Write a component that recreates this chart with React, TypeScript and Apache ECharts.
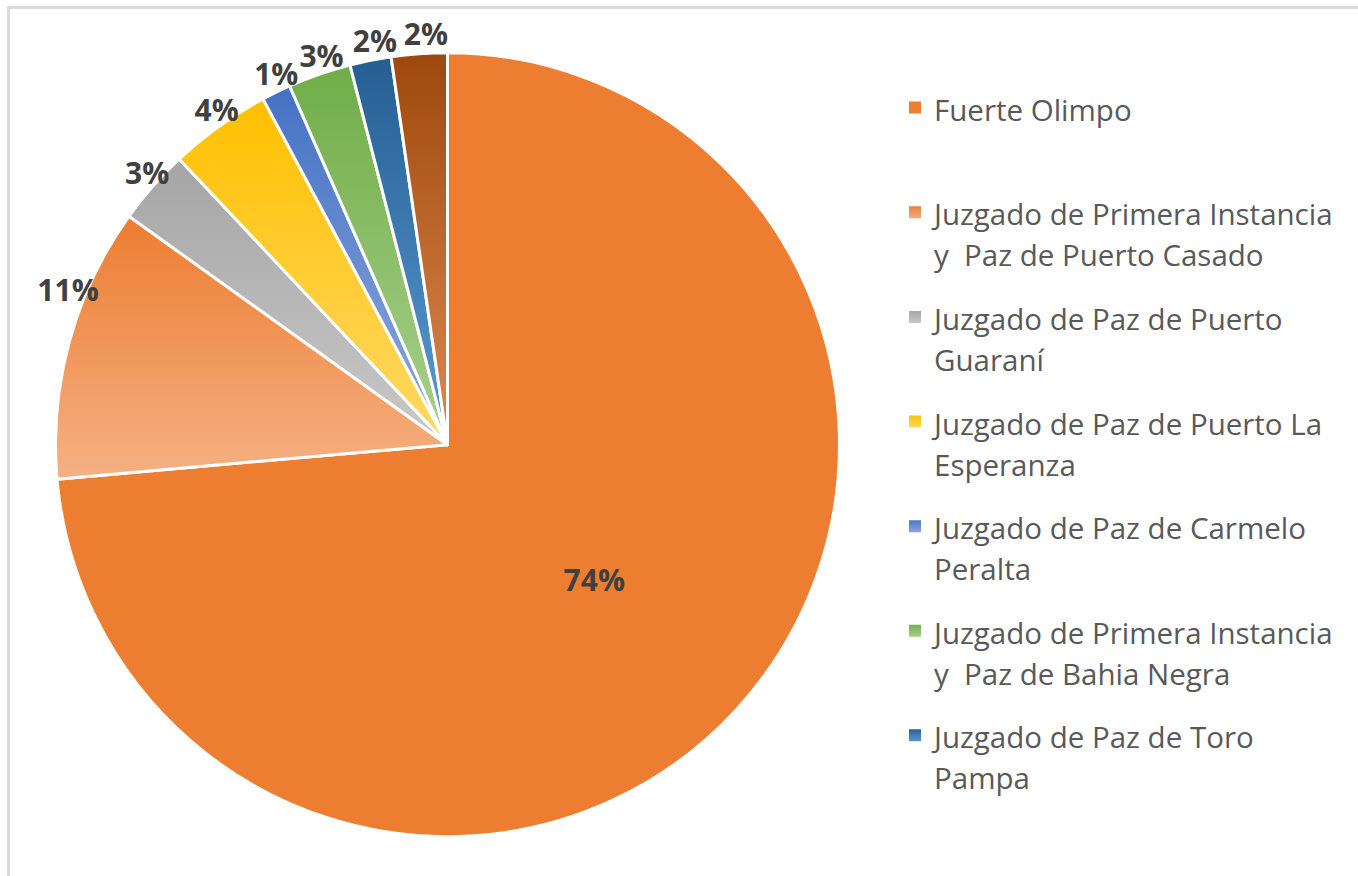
import React, { useEffect, useRef } from 'react';
import * as echarts from 'echarts';

// ---- data ----
const categories = [
  'Fuerte Olimpo',
  'Juzgado de Primera Instancia\ny  Paz de Puerto Casado',
  'Juzgado de Paz de Puerto\nGuaraní',
  'Juzgado de Paz de Puerto La\nEsperanza',
  'Juzgado de Paz de Carmelo\nPeralta',
  'Juzgado de Primera Instancia\ny  Paz de Bahia Negra',
  'Juzgado de Paz de Toro\nPampa',
  'Otros',
];
const values = [73.6, 11.3, 3.1, 4.2, 1.2, 2.6, 1.7, 2.3];
const baseColors = ['#ED7D31', '#ED7D31', '#A5A5A5', '#FFC000', '#4472C4', '#70AD47', '#255E91', '#9E480E'];
const tintColors = ['#ED7D31', '#F4B183', '#C9C9C9', '#FFD966', '#8FAADC', '#A9D18E', '#5B9BD5', '#E08A50'];
const legendNames = categories.slice(0, 7);

// ---- layout ----
const CX = 447.5;
const CY = 444.7;
const R = 392;
const LEGEND_X = 907;
const LEGEND_Y0 = 107.5;
const LEGEND_STEP = 104.6;
const LINE_H = 41;
const FONT = 'Open Sans';
const LEGEND_FS = 29.5;
const FIRST_PAD = 44;

const tok = (pt: number) => ({
  fontFamily: FONT,
  fontSize: LEGEND_FS,
  color: '#595959',
  lineHeight: LINE_H,
  padding: [pt, 0, 0, 0],
});

export default function App() {
  const ref = useRef<HTMLDivElement>(null);
  useEffect(() => {
    const chart = echarts.init(ref.current!, null, { renderer: 'svg' });
    const data = categories.map((name, i) => ({
      name,
      value: values[i],
      itemStyle: {
        color:
          baseColors[i] === tintColors[i]
            ? baseColors[i]
            : new echarts.graphic.LinearGradient(0, 0, 0, 1, [
                { offset: 0, color: baseColors[i] },
                { offset: 1, color: tintColors[i] },
              ]),
      },
      label: i === 0 ? { position: 'inside' } : undefined,
    }));
    const legends = legendNames.map((name, i) => {
      const lines = name.split('\n');
      const twoLine = lines.length > 1;
      const iconCenter = LEGEND_Y0 + i * LEGEND_STEP;
      const boxTop = twoLine
        ? LINE_H / 2 + (LEGEND_FS + FIRST_PAD) / 2
        : LINE_H / 2;
      return {
        orient: 'vertical',
        left: LEGEND_X,
        top: iconCenter - boxTop,
        padding: 0,
        itemWidth: 14,
        itemHeight: 14,
        icon: 'rect',
        selectedMode: false,
        data: [name],
        formatter: () =>
          twoLine ? `{f|${lines[0]}}\n{f|${lines[1]}}` : `{s|${lines[0]}}`,
        textStyle: {
          fontFamily: FONT,
          fontSize: LEGEND_FS,
          color: '#595959',
          lineHeight: LINE_H,
          padding: [0, 0, 0, 7],
          backgroundColor: 'rgba(0,0,0,0)',
          rich: { f: tok(FIRST_PAD), s: tok(3) },
        },
      };
    });
    chart.setOption({
      animation: false,
      backgroundColor: '#ffffff',
      legend: legends,
      graphic: [
        {
          type: 'rect',
          silent: true,
          z: -10,
          shape: { x: 8.5, y: 7.5, width: 1400, height: 900 },
          style: { fill: 'none', stroke: '#d9d9d9', lineWidth: 3 },
        },
      ],
      series: [
        {
          type: 'pie',
          center: [CX, CY],
          radius: R,
          startAngle: 90,
          clockwise: true,
          avoidLabelOverlap: false,
          emphasis: { disabled: true },
          itemStyle: { borderColor: '#ffffff', borderWidth: 3 },
          label: {
            show: true,
            position: 'outside',
            formatter: (p: any) => Math.round(p.percent) + '%',
            fontFamily: FONT,
            fontWeight: 'bold',
            fontSize: 30,
            color: '#404040',
            distanceToLabelLine: 0,
          },
          labelLine: { show: false, length: 18, length2: 0 },
          labelLayout: (p: any) => {
            if (p.dataIndex === 0) return { align: 'center', verticalAlign: 'middle' };
            if (p.dataIndex === 1) return { align: 'center', verticalAlign: 'middle', dx: 16, dy: -47 };
            return { align: 'center', verticalAlign: 'middle', dx: 8, dy: -2 };
          },
          data,
        },
      ],
    });
    return () => chart.dispose();
  }, []);
  return (
    <div
      ref={ref}
      style={{ position: 'absolute', left: 0, top: 0, width: 1358, height: 876, background: '#fff' }}
    />
  );
}
